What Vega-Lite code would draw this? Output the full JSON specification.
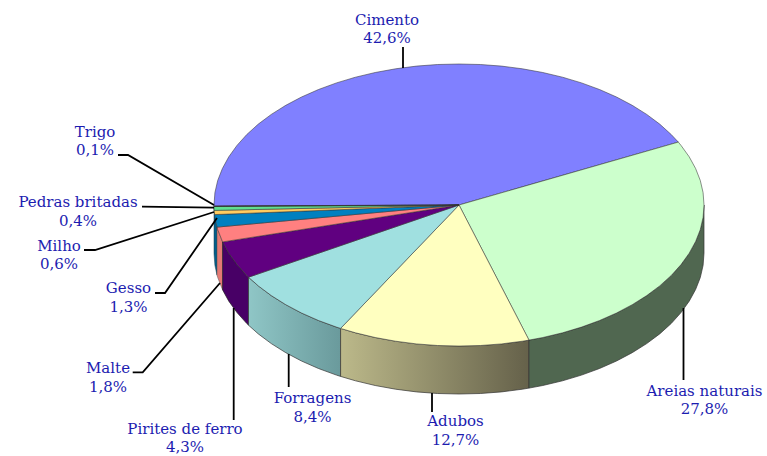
{"$schema":"https://vega.github.io/schema/vega-lite/v6.json","width":767,"height":456,"padding":0,"autosize":{"type":"none"},"background":"white","view":{"stroke":null},
"datasets":{
"tops":[
{"s":"Cimento","i":0,"x":459,"y":205},{"s":"Cimento","i":1,"x":214,"y":206},{"s":"Cimento","i":2,"x":214,"y":205},{"s":"Cimento","i":3,"x":214.9,"y":192.7},{"s":"Cimento","i":4,"x":217.7,"y":180.5},{"s":"Cimento","i":5,"x":222.4,"y":168.5},{"s":"Cimento","i":6,"x":228.8,"y":156.8},{"s":"Cimento","i":7,"x":237,"y":145.4},{"s":"Cimento","i":8,"x":246.8,"y":134.5},{"s":"Cimento","i":9,"x":258.3,"y":124.1},{"s":"Cimento","i":10,"x":271.3,"y":114.4},{"s":"Cimento","i":11,"x":285.8,"y":105.3},{"s":"Cimento","i":12,"x":301.5,"y":97},{"s":"Cimento","i":13,"x":318.5,"y":89.5},{"s":"Cimento","i":14,"x":336.5,"y":82.9},{"s":"Cimento","i":15,"x":355.5,"y":77.2},{"s":"Cimento","i":16,"x":375.2,"y":72.5},{"s":"Cimento","i":17,"x":395.6,"y":68.8},{"s":"Cimento","i":18,"x":416.5,"y":66.1},{"s":"Cimento","i":19,"x":437.6,"y":64.5},{"s":"Cimento","i":20,"x":459,"y":64},{"s":"Cimento","i":21,"x":480.4,"y":64.5},{"s":"Cimento","i":22,"x":501.5,"y":66.1},{"s":"Cimento","i":23,"x":522.4,"y":68.8},{"s":"Cimento","i":24,"x":542.8,"y":72.5},{"s":"Cimento","i":25,"x":562.5,"y":77.2},{"s":"Cimento","i":26,"x":581.5,"y":82.9},{"s":"Cimento","i":27,"x":599.5,"y":89.5},{"s":"Cimento","i":28,"x":616.5,"y":97},{"s":"Cimento","i":29,"x":632.2,"y":105.3},{"s":"Cimento","i":30,"x":646.7,"y":114.4},{"s":"Cimento","i":31,"x":659.7,"y":124.1},{"s":"Cimento","i":32,"x":671.2,"y":134.5},{"s":"Cimento","i":33,"x":678.3,"y":142.1},
{"s":"Areias naturais","i":0,"x":459,"y":205},{"s":"Areias naturais","i":1,"x":678.3,"y":142.1},{"s":"Areias naturais","i":2,"x":681,"y":145.4},{"s":"Areias naturais","i":3,"x":689.2,"y":156.8},{"s":"Areias naturais","i":4,"x":695.6,"y":168.5},{"s":"Areias naturais","i":5,"x":700.3,"y":180.5},{"s":"Areias naturais","i":6,"x":703.1,"y":192.7},{"s":"Areias naturais","i":7,"x":704,"y":205},{"s":"Areias naturais","i":8,"x":703.1,"y":217.3},{"s":"Areias naturais","i":9,"x":700.3,"y":229.5},{"s":"Areias naturais","i":10,"x":695.6,"y":241.5},{"s":"Areias naturais","i":11,"x":689.2,"y":253.2},{"s":"Areias naturais","i":12,"x":681,"y":264.6},{"s":"Areias naturais","i":13,"x":671.2,"y":275.5},{"s":"Areias naturais","i":14,"x":659.7,"y":285.9},{"s":"Areias naturais","i":15,"x":646.7,"y":295.6},{"s":"Areias naturais","i":16,"x":632.2,"y":304.7},{"s":"Areias naturais","i":17,"x":616.5,"y":313},{"s":"Areias naturais","i":18,"x":599.5,"y":320.5},{"s":"Areias naturais","i":19,"x":581.5,"y":327.1},{"s":"Areias naturais","i":20,"x":562.5,"y":332.8},{"s":"Areias naturais","i":21,"x":542.8,"y":337.5},{"s":"Areias naturais","i":22,"x":529,"y":340.1},
{"s":"Adubos","i":0,"x":459,"y":205},{"s":"Adubos","i":1,"x":529,"y":340.1},{"s":"Adubos","i":2,"x":522.4,"y":341.2},{"s":"Adubos","i":3,"x":501.5,"y":343.9},{"s":"Adubos","i":4,"x":480.4,"y":345.5},{"s":"Adubos","i":5,"x":459,"y":346},{"s":"Adubos","i":6,"x":437.6,"y":345.5},{"s":"Adubos","i":7,"x":416.5,"y":343.9},{"s":"Adubos","i":8,"x":395.6,"y":341.2},{"s":"Adubos","i":9,"x":375.2,"y":337.5},{"s":"Adubos","i":10,"x":355.5,"y":332.8},{"s":"Adubos","i":11,"x":340.6,"y":328.4},
{"s":"Forragens","i":0,"x":459,"y":205},{"s":"Forragens","i":1,"x":340.6,"y":328.4},{"s":"Forragens","i":2,"x":336.5,"y":327.1},{"s":"Forragens","i":3,"x":318.5,"y":320.5},{"s":"Forragens","i":4,"x":301.5,"y":313},{"s":"Forragens","i":5,"x":285.8,"y":304.7},{"s":"Forragens","i":6,"x":271.3,"y":295.6},{"s":"Forragens","i":7,"x":258.3,"y":285.9},{"s":"Forragens","i":8,"x":248.5,"y":277.2},
{"s":"Pirites de ferro","i":0,"x":459,"y":205},{"s":"Pirites de ferro","i":1,"x":248.5,"y":277.2},{"s":"Pirites de ferro","i":2,"x":246.8,"y":275.5},{"s":"Pirites de ferro","i":3,"x":237,"y":264.6},{"s":"Pirites de ferro","i":4,"x":228.8,"y":253.2},{"s":"Pirites de ferro","i":5,"x":222.6,"y":241.9},
{"s":"Malte","i":0,"x":459,"y":205},{"s":"Malte","i":1,"x":222.6,"y":241.9},{"s":"Malte","i":2,"x":217.7,"y":229.5},{"s":"Malte","i":3,"x":217,"y":227.1},
{"s":"Gesso","i":0,"x":459,"y":205},{"s":"Gesso","i":1,"x":217,"y":227.1},{"s":"Gesso","i":2,"x":214.9,"y":217.3},{"s":"Gesso","i":3,"x":214.6,"y":214.6},
{"s":"Milho","i":0,"x":459,"y":205},{"s":"Milho","i":1,"x":214.6,"y":214.6},{"s":"Milho","i":2,"x":214.1,"y":210.4},
{"s":"Pedras britadas","i":0,"x":459,"y":205},{"s":"Pedras britadas","i":1,"x":214.1,"y":210.4},{"s":"Pedras britadas","i":2,"x":214,"y":206.5},
{"s":"Trigo","i":0,"x":459,"y":205},{"s":"Trigo","i":1,"x":214,"y":206.5},{"s":"Trigo","i":2,"x":214,"y":206}
],
"walls":[
{"s":"Areias naturais","x":704,"y":205,"y2":253},{"s":"Areias naturais","x":703.1,"y":217.3,"y2":265.3},{"s":"Areias naturais","x":700.3,"y":229.5,"y2":277.5},{"s":"Areias naturais","x":695.6,"y":241.5,"y2":289.5},{"s":"Areias naturais","x":689.2,"y":253.2,"y2":301.2},{"s":"Areias naturais","x":681,"y":264.6,"y2":312.6},{"s":"Areias naturais","x":671.2,"y":275.5,"y2":323.5},{"s":"Areias naturais","x":659.7,"y":285.9,"y2":333.9},{"s":"Areias naturais","x":646.7,"y":295.6,"y2":343.6},{"s":"Areias naturais","x":632.2,"y":304.7,"y2":352.7},{"s":"Areias naturais","x":616.5,"y":313,"y2":361},{"s":"Areias naturais","x":599.5,"y":320.5,"y2":368.5},{"s":"Areias naturais","x":581.5,"y":327.1,"y2":375.1},{"s":"Areias naturais","x":562.5,"y":332.8,"y2":380.8},{"s":"Areias naturais","x":542.8,"y":337.5,"y2":385.5},{"s":"Areias naturais","x":529,"y":340.1,"y2":388.1},
{"s":"Adubos","x":529,"y":340.1,"y2":388.1},{"s":"Adubos","x":522.4,"y":341.2,"y2":389.2},{"s":"Adubos","x":501.5,"y":343.9,"y2":391.9},{"s":"Adubos","x":480.4,"y":345.5,"y2":393.5},{"s":"Adubos","x":459,"y":346,"y2":394},{"s":"Adubos","x":437.6,"y":345.5,"y2":393.5},{"s":"Adubos","x":416.5,"y":343.9,"y2":391.9},{"s":"Adubos","x":395.6,"y":341.2,"y2":389.2},{"s":"Adubos","x":375.2,"y":337.5,"y2":385.5},{"s":"Adubos","x":355.5,"y":332.8,"y2":380.8},{"s":"Adubos","x":340.6,"y":328.4,"y2":376.4},
{"s":"Forragens","x":340.6,"y":328.4,"y2":376.4},{"s":"Forragens","x":336.5,"y":327.1,"y2":375.1},{"s":"Forragens","x":318.5,"y":320.5,"y2":368.5},{"s":"Forragens","x":301.5,"y":313,"y2":361},{"s":"Forragens","x":285.8,"y":304.7,"y2":352.7},{"s":"Forragens","x":271.3,"y":295.6,"y2":343.6},{"s":"Forragens","x":258.3,"y":285.9,"y2":333.9},{"s":"Forragens","x":248.5,"y":277.2,"y2":325.2},
{"s":"Pirites de ferro","x":248.5,"y":277.2,"y2":325.2},{"s":"Pirites de ferro","x":246.8,"y":275.5,"y2":323.5},{"s":"Pirites de ferro","x":237,"y":264.6,"y2":312.6},{"s":"Pirites de ferro","x":228.8,"y":253.2,"y2":301.2},{"s":"Pirites de ferro","x":222.6,"y":241.9,"y2":289.9},
{"s":"Malte","x":222.6,"y":241.9,"y2":289.9},{"s":"Malte","x":217.7,"y":229.5,"y2":277.5},{"s":"Malte","x":217,"y":227.1,"y2":275.1},
{"s":"Gesso","x":217,"y":227.1,"y2":275.1},{"s":"Gesso","x":214.9,"y":217.3,"y2":265.3},{"s":"Gesso","x":214,"y":205.5,"y2":253.5}
],
"leaders":[
{"s":"Cimento","i":0,"x":403,"y":47},{"s":"Cimento","i":1,"x":403,"y":68},
{"s":"Areias naturais","i":0,"x":683.5,"y":308},{"s":"Areias naturais","i":1,"x":683.5,"y":380},
{"s":"Adubos","i":0,"x":432,"y":393},{"s":"Adubos","i":1,"x":432,"y":412},
{"s":"Forragens","i":0,"x":288.7,"y":354},{"s":"Forragens","i":1,"x":288.7,"y":387},
{"s":"Pirites de ferro","i":0,"x":233.7,"y":308},{"s":"Pirites de ferro","i":1,"x":233.7,"y":420},
{"s":"Malte","i":0,"x":132.7,"y":372.3},{"s":"Malte","i":1,"x":142.7,"y":372.3},{"s":"Malte","i":2,"x":220,"y":283},
{"s":"Gesso","i":0,"x":155,"y":293},{"s":"Gesso","i":1,"x":165,"y":293},{"s":"Gesso","i":2,"x":217,"y":218},
{"s":"Milho","i":0,"x":84,"y":250},{"s":"Milho","i":1,"x":95,"y":250},{"s":"Milho","i":2,"x":214,"y":212},
{"s":"Pedras britadas","i":0,"x":142,"y":206.7},{"s":"Pedras britadas","i":1,"x":214,"y":207.7},
{"s":"Trigo","i":0,"x":118,"y":155},{"s":"Trigo","i":1,"x":128,"y":155},{"s":"Trigo","i":2,"x":214,"y":205}
],
"labels":[
{"s":"Cimento","pct":"42,6%","x":387,"y":20,"yp":38},
{"s":"Areias naturais","pct":"27,8%","x":704.5,"y":391,"yp":408.5},
{"s":"Adubos","pct":"12,7%","x":455.5,"y":421,"yp":440},
{"s":"Forragens","pct":"8,4%","x":312.5,"y":398,"yp":416.5},
{"s":"Pirites de ferro","pct":"4,3%","x":185,"y":429,"yp":446.5},
{"s":"Malte","pct":"1,8%","x":108,"y":368,"yp":387},
{"s":"Gesso","pct":"1,3%","x":128.5,"y":288,"yp":307},
{"s":"Milho","pct":"0,6%","x":59,"y":245.5,"yp":263.5},
{"s":"Pedras britadas","pct":"0,4%","x":78,"y":201.5,"yp":221},
{"s":"Trigo","pct":"0,1%","x":95,"y":132,"yp":150}
]},
"encoding":{
"x":{"field":"x","type":"quantitative","axis":null,"scale":{"domain":[0,767],"nice":false,"zero":false}},
"y":{"field":"y","type":"quantitative","axis":null,"scale":{"domain":[456,0],"nice":false,"zero":false}}
},
"layer":[
{"data":{"name":"walls"},"transform":[{"filter":"datum.s==='Gesso'"}],"mark":{"type":"area","fill":"#005f8c","stroke":"#1a3a4a","strokeWidth":0.5},"encoding":{"y2":{"field":"y2"}}},
{"data":{"name":"walls"},"transform":[{"filter":"datum.s==='Malte'"}],"mark":{"type":"area","fill":"#e47a74","stroke":"#555","strokeWidth":0.5},"encoding":{"y2":{"field":"y2"}}},
{"data":{"name":"walls"},"transform":[{"filter":"datum.s==='Pirites de ferro'"}],"mark":{"type":"area","fill":"#480066","stroke":"#222","strokeWidth":0.7},"encoding":{"y2":{"field":"y2"}}},
{"data":{"name":"walls"},"transform":[{"filter":"datum.s==='Forragens'"}],"mark":{"type":"area","stroke":"#333","strokeWidth":0.7,"fill":{"gradient":"linear","x1":0,"x2":1,"y1":0,"y2":0,"stops":[{"offset":0,"color":"#8fc6c6"},{"offset":1,"color":"#6a9a9c"}]}},"encoding":{"y2":{"field":"y2"}}},
{"data":{"name":"walls"},"transform":[{"filter":"datum.s==='Adubos'"}],"mark":{"type":"area","stroke":"#333","strokeWidth":0.7,"fill":{"gradient":"linear","x1":0,"x2":1,"y1":0,"y2":0,"stops":[{"offset":0,"color":"#bcb98a"},{"offset":1,"color":"#65614a"}]}},"encoding":{"y2":{"field":"y2"}}},
{"data":{"name":"walls"},"transform":[{"filter":"datum.s==='Areias naturais'"}],"mark":{"type":"area","fill":"#506750","stroke":"#333","strokeWidth":0.7},"encoding":{"y2":{"field":"y2"}}},
{"data":{"name":"tops"},"mark":{"type":"line","interpolate":"linear-closed","stroke":"#333","strokeWidth":0.55},"encoding":{"order":{"field":"i","type":"quantitative"},"detail":{"field":"s"},"fill":{"field":"s","type":"nominal","legend":null,"scale":{"domain":["Cimento","Areias naturais","Adubos","Forragens","Pirites de ferro","Malte","Gesso","Milho","Pedras britadas","Trigo"],"range":["#8080ff","#ccffcc","#ffffc0","#a0e0e0","#600080","#ff8080","#0080c0","#ffcc60","#60e090","#202020"]}}}},
{"data":{"name":"leaders"},"mark":{"type":"line","stroke":"#000","strokeWidth":1.8},"encoding":{"order":{"field":"i","type":"quantitative"},"detail":{"field":"s"}}},
{"data":{"name":"labels"},"mark":{"type":"text","font":"DejaVu Serif","fontSize":15,"fill":"#1c1cb0","align":"center","baseline":"middle"},"encoding":{"text":{"field":"s"}}},
{"data":{"name":"labels"},"mark":{"type":"text","font":"DejaVu Serif","fontSize":15,"fill":"#1c1cb0","align":"center","baseline":"middle"},"encoding":{"y":{"field":"yp","type":"quantitative"},"text":{"field":"pct"}}}
]}
